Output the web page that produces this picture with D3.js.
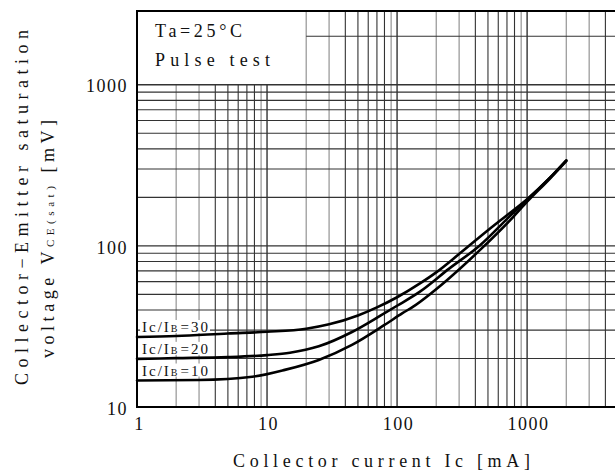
<!DOCTYPE html>
<html><head><meta charset="utf-8">
<script src="https://cdn.jsdelivr.net/npm/d3@7"></script>
<style>body{margin:0;background:#fff}svg{display:block}</style>
</head><body><svg id="c" width="615" height="473"></svg>
<script>
// ---- data ----
const xTicks = [1, 10, 100, 1000];
const yTicks = [10, 100, 1000];
const xGrid = [2,3,4,5,6,7,8,9,10,20,30,40,50,60,70,80,90,100,200,300,400,500,600,700,800,900,1000,2000,3000,4000];
const yGrid = [20,30,40,50,60,70,80,90,100,200,300,400,500,600,700,800,900,1000,2000];
const seriesNames = ["30", "20", "10"];
const ic30 = [[1,27.2],[2,27.6],[5,28.6],[10,29.3],[20,30.6],[30,32.6],[50,37],[70,41.5],[100,48],[150,58.5],[200,68.5],[300,89],[500,125],[700,155],[1000,195],[1500,265],[2000,340]];
const ic20 = [[1,19.9],[2,20.1],[5,20.4],[10,21],[15,21.7],[25,23.8],[45,29.2],[75,37],[100,42.5],[150,52],[250,72],[435,101],[780,160],[1000,193],[1500,265],[2000,338]];
const ic10 = [[1,14.6],[3,14.7],[7.7,15.4],[13.7,17],[25,19.6],[45,24.3],[80,32.3],[110,38.2],[133,42],[243,61.5],[435,94.4],[780,151],[1000,188],[1500,262],[2000,336]];
const series = [ic30, ic20, ic10];
const noteLines = ["Ta=25\u00B0C", "Pulse test"];

// ---- layout ----
const svg = d3.select("#c");
const x = d3.scaleLog().domain([1, 5000]).range([137, 618]);
const y = d3.scaleLog().domain([10, 2870]).range([407, 11]);
const FONT = "'Liberation Serif', 'DejaVu Serif', serif";

const g = svg.append("g");
const boxX = 20, boxY = 1000;

const shadeX = v => { const d = Math.round(v / Math.pow(10, Math.floor(Math.log10(v) + 1e-9))); return (d===2||d===3||d===9) ? "#8a8a8a" : "#333"; };
g.selectAll(".vg").data(xGrid).join("line")
  .attr("x1", d => x(d)).attr("x2", d => x(d))
  .attr("y1", d => d < boxX ? y(boxY) : y.range()[1])
  .attr("y2", y.range()[0])
  .attr("stroke", shadeX).attr("stroke-width", d => [10,100,1000].includes(d) ? 1.4 : 1.1);
g.selectAll(".hg").data(yGrid).join("line")
  .attr("x1", d => d > boxY ? x(boxX) : x.range()[0])
  .attr("x2", x.range()[1])
  .attr("y1", d => y(d)).attr("y2", d => y(d))
  .attr("stroke", "#333").attr("stroke-width", d => [100,1000].includes(d) ? 1.4 : 1.1);

g.append("path")
  .attr("d", `M${x.range()[1]},${y.range()[1]}H${x.range()[0]}V${y.range()[0]}H${x.range()[1]}`)
  .attr("fill", "none").attr("stroke", "#000").attr("stroke-width", 2);

const xAxis = d3.axisBottom(x).tickValues(xTicks).tickSize(0).tickFormat(d3.format("d"));
const ax = svg.append("g").attr("transform", `translate(0,${y.range()[0] + 7})`).call(xAxis);
ax.select(".domain").remove();
ax.selectAll("text").attr("font-family", FONT).attr("font-size", 18).attr("fill", "#111")
  .attr("letter-spacing", 1.5).attr("dx", d => d === 1 ? 2 : 1);
const yAxis = d3.axisLeft(y).tickValues(yTicks).tickSize(0).tickFormat(d3.format("d"));
const ay = svg.append("g").attr("transform", `translate(${x.range()[0] - 6},0)`).call(yAxis);
ay.select(".domain").remove();
ay.selectAll("text").attr("font-family", FONT).attr("font-size", 18).attr("fill", "#111")
  .attr("letter-spacing", 1.5).attr("dy", "0.4em");

const line = d3.line().x(d => x(d[0])).y(d => y(d[1])).curve(d3.curveMonotoneX);
svg.selectAll(".curve").data(series).join("path")
  .attr("d", line).attr("fill", "none").attr("stroke", "#000").attr("stroke-width", 2.6)
  .attr("stroke-linecap", "round");

series.forEach((s, i) => {
  const yy = y(s[0][1]) - 10;
  const lg = svg.append("g");
  lg.append("rect").attr("x", x(1) + 3).attr("y", yy - 7).attr("width", 70).attr("height", 13).attr("fill", "#fff");
  const t = lg.append("text").attr("x", x(1) + 5).attr("y", yy + 5)
    .attr("font-family", FONT).attr("font-size", 15).attr("fill", "#111");
  t.append("tspan").text("Ic/I");
  t.append("tspan").text("B").attr("font-size", 10);
  t.append("tspan").text("=" + seriesNames[i]).attr("dx", 1);
  t.attr("textLength", 66).attr("lengthAdjust", "spacing");
});

noteLines.forEach((s, i) => {
  svg.append("text").attr("x", 155).attr("y", 37 + i * 29).text(s)
    .attr("font-family", FONT).attr("font-size", 18).attr("fill", "#111")
    .attr("textLength", i === 0 ? 87 : 115).attr("lengthAdjust", "spacing");
});

svg.append("text").attr("x", 233).attr("y", 467).text("Collector current Ic [mA]")
  .attr("font-family", FONT).attr("font-size", 18).attr("fill", "#111")
  .attr("textLength", 297).attr("lengthAdjust", "spacing");

svg.append("text").attr("transform", "translate(28,385) rotate(-90)")
  .attr("font-family", FONT).attr("font-size", 18).attr("fill", "#111")
  .text("Collector\u2212Emitter saturation")
  .attr("textLength", 355).attr("lengthAdjust", "spacing");
const yt2 = svg.append("text").attr("transform", "translate(54,358) rotate(-90)")
  .attr("font-family", FONT).attr("font-size", 18).attr("fill", "#111");
yt2.append("tspan").text("voltage V");
yt2.append("tspan").text("CE(sat)").attr("font-size", 11);
yt2.append("tspan").text(" [mV]");
yt2.attr("textLength", 238).attr("lengthAdjust", "spacing");
</script></body></html>
